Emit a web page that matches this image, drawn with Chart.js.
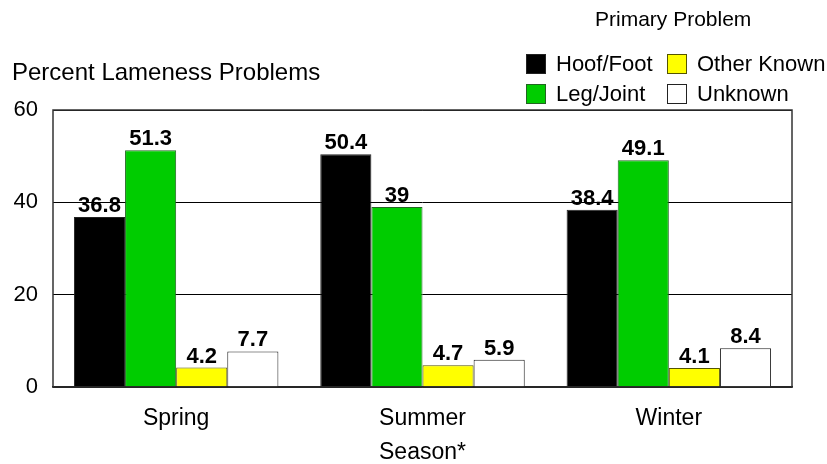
<!DOCTYPE html>
<html><head><meta charset="utf-8">
<script src="https://cdn.jsdelivr.net/npm/chart.js@4"></script>
<style>html,body{margin:0;padding:0;background:#fff}</style>
</head><body>
<canvas id="c" width="827" height="464"></canvas>
<script>
const categories = ['Spring', 'Summer', 'Winter'];
const seriesNames = ['Hoof/Foot', 'Leg/Joint', 'Other Known', 'Unknown'];
const hoofFoot = [36.8, 50.4, 38.4];
const legJoint = [51.3, 39, 49.1];
const otherKnown = [4.2, 4.7, 4.1];
const unknown = [7.7, 5.9, 8.4];
const yTicks = [0, 20, 40, 60];
const yTitle = 'Percent Lameness Problems';
const xTitle = 'Season*';
const legendTitle = 'Primary Problem';

const FONT = '"Liberation Sans", Arial, sans-serif';
const fills = ['#000000', '#00cc00', '#ffff00', '#ffffff'];
const edges = ['#222222', '#226622', '#555500', '#222222'];
const values = [hoofFoot, legJoint, otherKnown, unknown];

const datasets = seriesNames.map((n, i) => ({
  label: n, data: values[i], backgroundColor: fills[i], borderColor: edges[i],
  borderWidth: 1, categoryPercentage: 0.83, barPercentage: 1.0
}));

const framePlugin = {
  id: 'frame',
  afterDatasetsDraw(chart) {
    const {ctx, chartArea: a} = chart;
    ctx.save();
    ctx.strokeStyle = '#333';
    ctx.lineWidth = 1.5;
    ctx.strokeRect(a.left, a.top, a.right - a.left, a.bottom - a.top);
    ctx.restore();
  }
};

const labelPlugin = {
  id: 'vals',
  afterDatasetsDraw(chart) {
    const ctx = chart.ctx;
    ctx.save();
    ctx.font = 'bold 22px ' + FONT;
    ctx.fillStyle = '#000';
    ctx.textAlign = 'center';
    ctx.textBaseline = 'alphabetic';
    chart.data.datasets.forEach((ds, i) => {
      chart.getDatasetMeta(i).data.forEach((el, j) => {
        ctx.fillText(String(ds.data[j]), el.x, el.y - 5);
      });
    });
    ctx.restore();
  }
};

const legendPlugin = {
  id: 'customLegend',
  afterDraw(chart) {
    const ctx = chart.ctx;
    ctx.save();
    ctx.fillStyle = '#000';
    ctx.font = '21px ' + FONT;
    ctx.textAlign = 'left';
    ctx.textBaseline = 'middle';
    ctx.fillText(legendTitle, 595, 20);
    ctx.font = '24px ' + FONT;
    ctx.fillText(yTitle, 12, 73);
    const cols = [526, 667], rows = [64, 94];
    ctx.font = '22px ' + FONT;
    chart.data.datasets.forEach((ds, i) => {
      const col = Math.floor(i / 2), row = i % 2;
      const x = cols[col], y = rows[row];
      ctx.fillStyle = ds.backgroundColor;
      ctx.fillRect(x, y - 10, 20, 20);
      ctx.strokeStyle = ds.borderColor;
      ctx.lineWidth = 1;
      ctx.strokeRect(x + 0.5, y - 9.5, 19, 19);
      ctx.fillStyle = '#000';
      ctx.fillText(ds.label, x + 30, y + 1);
    });
    ctx.restore();
  }
};

new Chart(document.getElementById('c'), {
  type: 'bar',
  data: { labels: categories, datasets },
  options: {
    responsive: false,
    animation: false,
    layout: { padding: { top: 110, right: 35, left: 0, bottom: 0 } },
    plugins: { legend: { display: false }, tooltip: { enabled: false } },
    scales: {
      x: {
        grid: { display: false },
        border: { display: true, color: '#000', width: 1.5 },
        ticks: { color: '#000', font: { family: FONT, size: 23 }, padding: 10 },
        title: { display: true, text: xTitle, color: '#000', font: { family: FONT, size: 23, lineHeight: 1.0 }, padding: { top: 4, bottom: 0 } },
        afterFit(s) { s.height = 77; }
      },
      y: {
        min: 0, max: 60,
        afterBuildTicks(s) { s.ticks = yTicks.map(v => ({ value: v })); },
        grid: { color: '#000', lineWidth: 1, drawTicks: false },
        border: { display: false },
        ticks: { color: '#000', font: { family: FONT, size: 22 }, padding: 15 },
        afterFit(s) { s.width = 53; }
      }
    }
  },
  plugins: [framePlugin, labelPlugin, legendPlugin]
});
</script>
</body></html>
